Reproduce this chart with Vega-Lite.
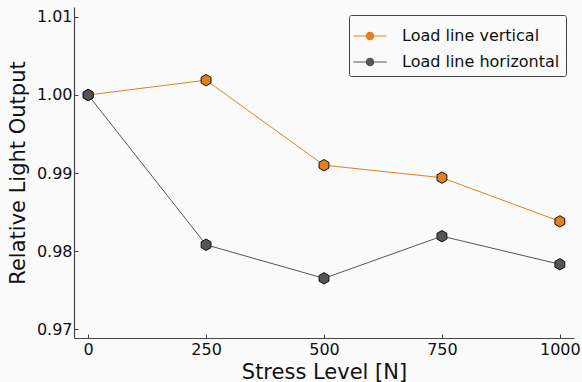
{
  "$schema": "https://vega.github.io/schema/vega-lite/v6.json",
  "width": 500,
  "height": 331,
  "padding": {"left": 74, "top": 7, "right": 8, "bottom": 44},
  "autosize": {"type": "none"},
  "background": "#fafafa",
  "config": {
    "font": "DejaVu Sans",
    "view": {"stroke": null},
    "axis": {
      "domainColor": "#444",
      "domainWidth": 1.2,
      "tickColor": "#444",
      "tickSize": -4,
      "grid": false,
      "labelFont": "DejaVu Sans",
      "labelFontSize": 16,
      "labelColor": "#111",
      "titleFont": "DejaVu Sans",
      "titleFontSize": 21,
      "titleFontWeight": "normal",
      "titleColor": "#111"
    }
  },
  "data": {
    "values": [
      {"stress": 0, "rlo": 1.0, "series": "Load line vertical"},
      {"stress": 250, "rlo": 1.0019, "series": "Load line vertical"},
      {"stress": 500, "rlo": 0.991, "series": "Load line vertical"},
      {"stress": 750, "rlo": 0.9894, "series": "Load line vertical"},
      {"stress": 1000, "rlo": 0.9838, "series": "Load line vertical"},
      {"stress": 0, "rlo": 1.0, "series": "Load line horizontal"},
      {"stress": 250, "rlo": 0.9808, "series": "Load line horizontal"},
      {"stress": 500, "rlo": 0.9765, "series": "Load line horizontal"},
      {"stress": 750, "rlo": 0.9819, "series": "Load line horizontal"},
      {"stress": 1000, "rlo": 0.9783, "series": "Load line horizontal"}
    ]
  },
  "encoding": {
    "x": {
      "field": "stress", "type": "quantitative",
      "scale": {"domain": [-30, 1030], "nice": false, "zero": false},
      "axis": {"values": [0, 250, 500, 750, 1000], "format": "d", "title": "Stress Level [N]", "labelPadding": 7, "titlePadding": 4}
    },
    "y": {
      "field": "rlo", "type": "quantitative",
      "scale": {"domain": [0.96885, 1.01128], "nice": false, "zero": false},
      "axis": {"values": [0.97, 0.98, 0.99, 1.0, 1.01], "format": ".2f", "title": "Relative Light Output", "labelPadding": 6, "titlePadding": 8}
    },
    "color": {
      "field": "series", "type": "nominal",
      "scale": {"domain": ["Load line vertical", "Load line horizontal"], "range": ["#e2801f", "#555555"]},
      "legend": {
        "title": null,
        "orient": "top-right",
        "offset": 8,
        "labelFont": "DejaVu Sans",
        "labelFontSize": 16,
        "labelColor": "#111",
        "symbolType": "M-1.17,0H-0.26M0.26,0H1.17M-0.26,0A0.26,0.26 0 1,0 0.26,0A0.26,0.26 0 1,0 -0.26,0Z",
        "symbolSize": 800,
        "symbolStrokeWidth": 1.2,
        "strokeColor": "#444",
        "fillColor": "#fafafa",
        "cornerRadius": 2,
        "padding": 6,
        "rowPadding": 3,
        "labelOffset": 17,
        "labelLimit": 300
      }
    }
  },
  "layer": [
    {"mark": {"type": "line", "strokeWidth": 1}},
    {
      "mark": {"type": "point", "filled": true, "opacity": 1, "stroke": "#111", "strokeWidth": 1,
        "shape": "M0,-1L0.866,-0.5L0.866,0.5L0,1L-0.866,0.5L-0.866,-0.5Z", "size": 130}
    }
  ]
}
